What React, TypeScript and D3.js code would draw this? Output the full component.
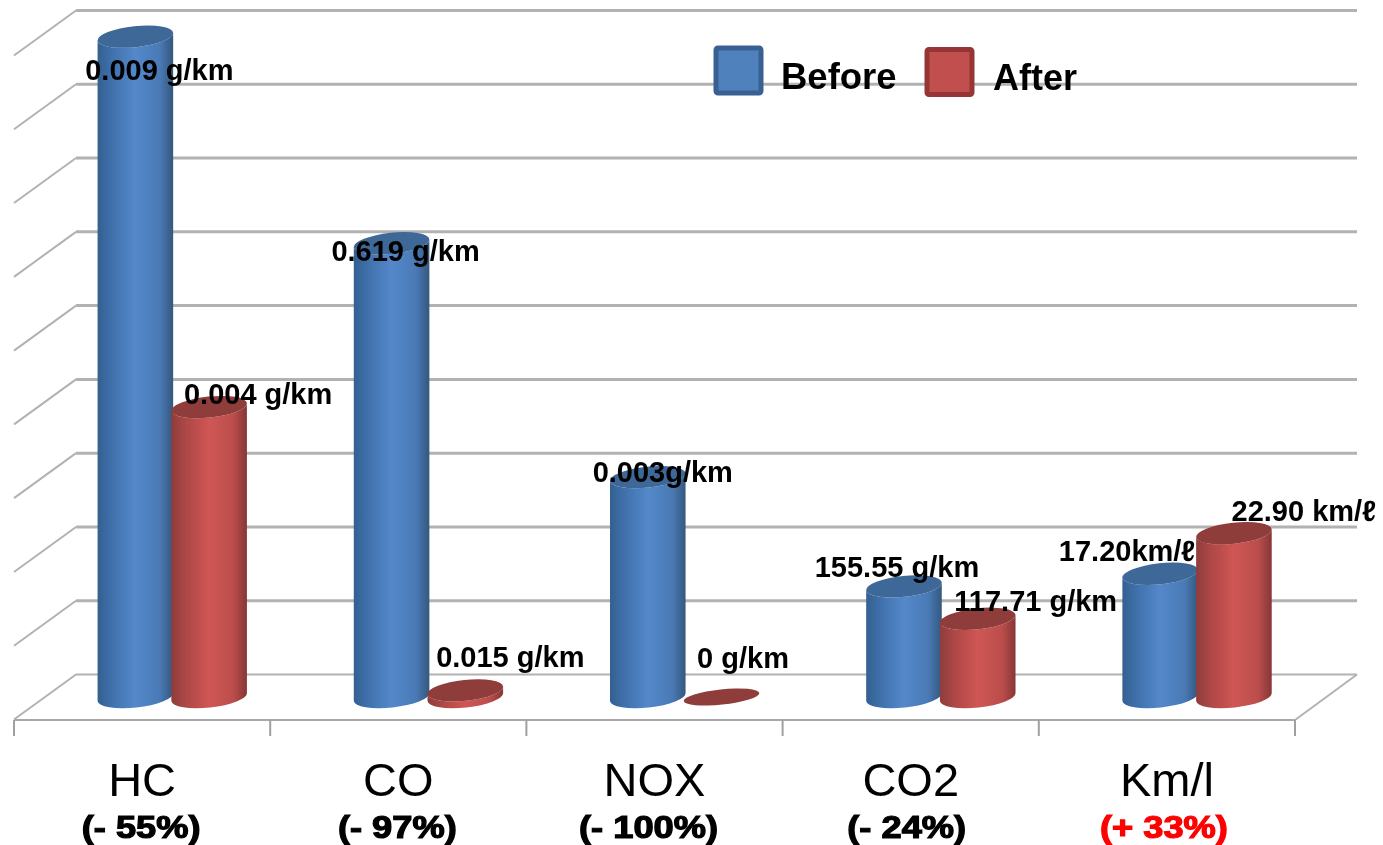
import React from "react";
import * as d3 from "d3";

const categories = ["HC", "CO", "NOX", "CO2", "Km/l"];
const changes = ["(- 55%)", "(- 97%)", "(- 100%)", "(- 24%)", "(+ 33%)"];
const seriesNames = ["Before", "After"];
const beforeHeights = [8.95, 6.15, 2.98, 1.5, 1.67];
const afterHeights = [3.93, 0.09, 0, 1.06, 2.22];
const beforeLabels = ["0.009 g/km", "0.619 g/km", "0.003g/km", "155.55 g/km", "17.20km/ℓ"];
const afterLabels = ["0.004 g/km", "0.015 g/km", "0 g/km", "117.71 g/km", "22.90 km/ℓ"];
const gridValues = d3.range(0, 10);

// label placement, relative to the top of each cylinder [dx, dy]
const beforeLabelOffsets = [[24, 43], [14, 18], [15, 5], [-7, -9], [-33, -13]];
const afterLabelOffsets = [[49, -3], [45, -23], [21.5, -29], [58, -8], [70, -12]];
const changeOffsets = [-1, -1, -6, -4, -3];

const W = 1383;
const H = 845;
const floorLeft = 14;
const floorRight = 1295;
const depthX = 62;
const depthY = 45;
const baseY = 697;
const rx = 38;
const ry = 10.5;
const tilt = -6;
const sinT = Math.sin((tilt * Math.PI) / 180) * rx;
const cosT = Math.cos((tilt * Math.PI) / 180) * rx;

const x0 = d3.scaleBand<string>().domain(categories).range([floorLeft, floorRight]);
const x1 = d3.scaleBand<string>().domain(seriesNames).range([84.5, 232]);
const y = d3.scaleLinear().domain([0, 9]).range([baseY, 33]);

const palette: Record<string, { top: string; rim: string; fill: string }> = {
  Before: { top: "#3d6797", rim: "#376092", fill: "#4f81bd" },
  After: { top: "#8f3c3a", rim: "#963634", fill: "#c0504d" },
};

const FONT = "'Liberation Sans', Arial, sans-serif";

function Cylinder({ cx, value, series }: { cx: number; value: number; series: string }) {
  const yTop = y(value);
  const xl = cx - cosT;
  const xr = cx + cosT;
  const dy = -sinT;
  const capRy = value > 0 ? ry : ry * 0.72;
  const body = `M${xl},${yTop + dy} L${xl},${baseY + dy} A${rx},${ry} ${tilt} 0 0 ${xr},${baseY - dy} L${xr},${yTop - dy} A${rx},${ry} ${tilt} 0 1 ${xl},${yTop + dy} Z`;
  const cap = `M${xl},${yTop + dy} A${rx},${capRy} ${tilt} 1 1 ${xr},${yTop - dy} A${rx},${capRy} ${tilt} 1 1 ${xl},${yTop + dy} Z`;
  return (
    <g>
      {value > 0 && <path d={body} fill={`url(#grad-${series})`} />}
      <path d={cap} fill={palette[series].top} />
    </g>
  );
}

export default function App() {
  const gridY = (v: number) => y(v) - depthY / 2;
  const ticks = [...categories.map((c) => x0(c) as number), floorRight];
  const seriesHeights = [beforeHeights, afterHeights];
  const seriesLabels = [beforeLabels, afterLabels];
  const seriesOffsets = [beforeLabelOffsets, afterLabelOffsets];
  return (
    <svg
      width={W}
      height={H}
      viewBox={`0 0 ${W} ${H}`}
      style={{ position: "absolute", left: 0, top: 0, background: "#fff" }}
    >
      <defs>
        <filter id="soft" x="-5%" y="-5%" width="110%" height="110%">
          <feGaussianBlur stdDeviation="0.7" />
        </filter>
        <linearGradient id="grad-Before" x1="0" x2="1" y1="0" y2="0">
          <stop offset="0" stopColor="#33608f" />
          <stop offset="0.18" stopColor="#3f70ab" />
          <stop offset="0.5" stopColor="#5488ca" />
          <stop offset="0.82" stopColor="#4a7ab6" />
          <stop offset="1" stopColor="#34587f" />
        </linearGradient>
        <linearGradient id="grad-After" x1="0" x2="1" y1="0" y2="0">
          <stop offset="0" stopColor="#8e3d3c" />
          <stop offset="0.2" stopColor="#ae4846" />
          <stop offset="0.5" stopColor="#cf5654" />
          <stop offset="0.82" stopColor="#bb4e4c" />
          <stop offset="1" stopColor="#853635" />
        </linearGradient>
      </defs>
      <g filter="url(#soft)">
        {gridValues.map((v) => (
          <g key={v} fill="none">
            <line
              x1={floorLeft + depthX}
              x2={floorRight + depthX}
              y1={gridY(v)}
              y2={gridY(v)}
              stroke="#b2b2b2"
              strokeWidth={v === 0 ? 2.2 : 3}
            />
            <line
              x1={floorLeft}
              x2={floorLeft + depthX}
              y1={gridY(v) + depthY}
              y2={gridY(v)}
              stroke="#b2b2b2"
              strokeWidth={2}
            />
          </g>
        ))}
        <line x1={floorLeft} x2={floorRight} y1={baseY + 23} y2={baseY + 23} stroke="#a8a8a8" strokeWidth={2} />
        <line
          x1={floorRight}
          x2={floorRight + depthX}
          y1={baseY + 23}
          y2={gridY(0)}
          stroke="#b2b2b2"
          strokeWidth={2}
        />
        {ticks.map((t) => (
          <line key={t} x1={t} x2={t} y1={baseY + 23} y2={baseY + 39} stroke="#a0a0a0" strokeWidth={2} />
        ))}

        {categories.map((c, i) =>
          seriesNames.map((s, k) => (
            <Cylinder
              key={c + s}
              cx={(x0(c) as number) + (x1(s) as number) + x1.bandwidth() / 2}
              value={seriesHeights[k][i]}
              series={s}
            />
          ))
        )}

        <rect x={716} y={48} width={45} height={45} rx={2} fill={palette.Before.fill} stroke={palette.Before.rim} strokeWidth={5} />
        <rect x={927} y={49.5} width={45} height={45} rx={2} fill={palette.After.fill} stroke={palette.After.rim} strokeWidth={5} />
        <text x={781} y={89} fontFamily={FONT} fontWeight={700} fontSize={36.5} fill="#000">
          {seriesNames[0]}
        </text>
        <text x={993} y={90} fontFamily={FONT} fontWeight={700} fontSize={36} fill="#000">
          {seriesNames[1]}
        </text>

        {categories.map((c, i) =>
          seriesNames.map((s, k) => (
            <text
              key={c + s + "label"}
              x={(x0(c) as number) + (x1(s) as number) + x1.bandwidth() / 2 + seriesOffsets[k][i][0]}
              y={y(seriesHeights[k][i]) + seriesOffsets[k][i][1]}
              textAnchor="middle"
              fontFamily={FONT}
              fontWeight={700}
              fontSize={29}
              fill="#000"
            >
              {seriesLabels[k][i]}
            </text>
          ))
        )}

        {categories.map((c, i) => {
          const cx = (x0(c) as number) + x0.bandwidth() / 2;
          return (
            <g key={c + "axis"}>
              <text x={cx} y={796} textAnchor="middle" fontFamily={FONT} fontSize={47} fill="#000">
                {c}
              </text>
              <text
                transform={`translate(${cx + changeOffsets[i]},838) scale(1.17,1)`}
                textAnchor="middle"
                fontFamily={FONT}
                fontWeight={700}
                fontSize={31}
                stroke={i === 4 ? "#ff0000" : "#000"}
                strokeWidth={1.2}
                fill={i === 4 ? "#ff0000" : "#000"}
              >
                {changes[i]}
              </text>
            </g>
          );
        })}
      </g>
    </svg>
  );
}
